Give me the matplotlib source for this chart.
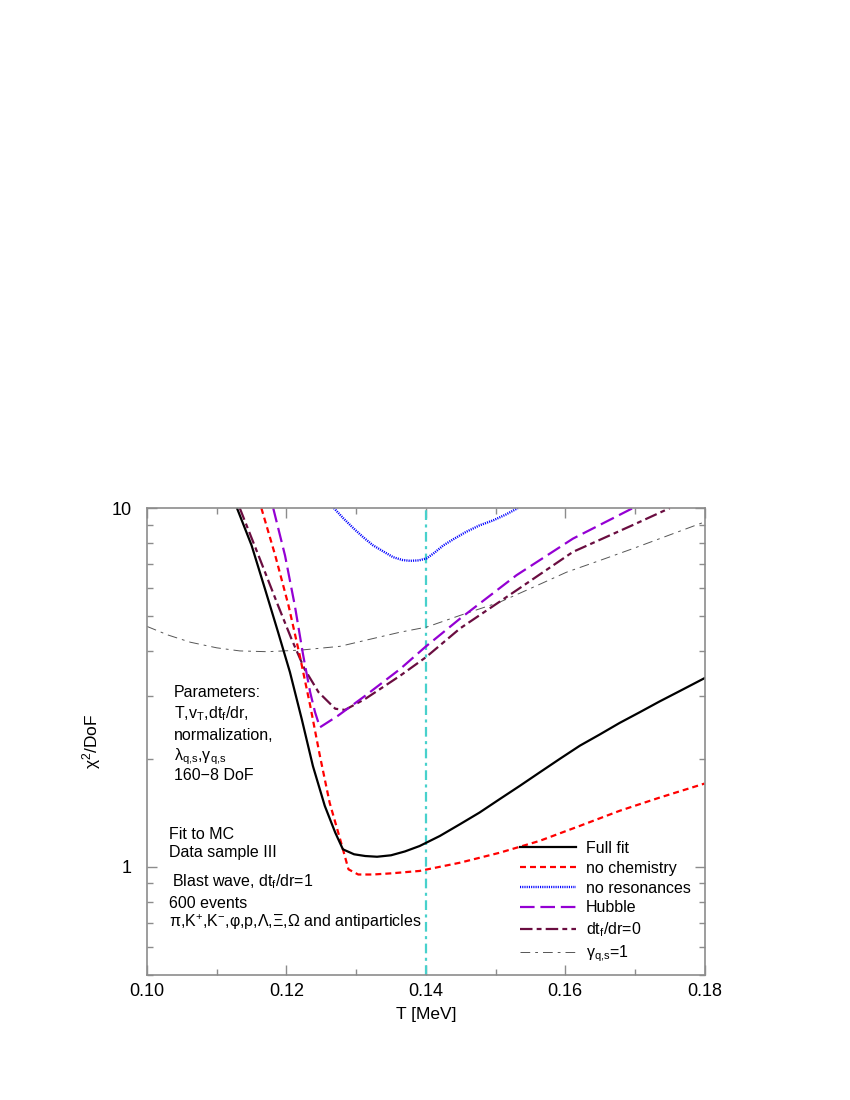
import matplotlib

matplotlib.use("Agg")
from matplotlib import pyplot as plt
from matplotlib.ticker import FixedLocator, LogLocator, NullFormatter, MultipleLocator

plt.rcParams["font.family"] = ["Liberation Sans", "DejaVu Sans"]
plt.rcParams["mathtext.fontset"] = "custom"
plt.rcParams["mathtext.rm"] = "Liberation Sans"
plt.rcParams["mathtext.it"] = "Liberation Sans:italic"
plt.rcParams["mathtext.bf"] = "Liberation Sans:bold"
plt.rcParams["lines.scale_dashes"] = False

# curves: T on the x axis, chi2/DoF on a log y axis
full_T = [0.1129, 0.1150, 0.1169, 0.1188, 0.1205, 0.1222, 0.1238, 0.1255, 0.1270,
          0.1281, 0.1297, 0.1313, 0.1330, 0.1350, 0.1370, 0.1391, 0.1420, 0.1449,
          0.1477, 0.1506, 0.1535, 0.1563, 0.1592, 0.1621, 0.1649, 0.1678, 0.1707,
          0.1735, 0.1764, 0.1800]
full_chi = [10.0, 7.87, 5.97, 4.51, 3.49, 2.58, 1.91, 1.48, 1.247,
            1.12, 1.085, 1.073, 1.068, 1.078, 1.105, 1.144, 1.22, 1.316,
            1.418, 1.546, 1.684, 1.833, 2.0, 2.178, 2.337, 2.52, 2.70,
            2.89, 3.09, 3.36]

nochem_T = [0.1164, 0.1184, 0.1203, 0.1219, 0.1234, 0.1248, 0.1262, 0.1277, 0.1289,
            0.1303, 0.1324, 0.1350, 0.1391, 0.1449, 0.1506, 0.1563, 0.1621, 0.1678,
            0.1735, 0.1800]
nochem_chi = [10.0, 7.37, 5.35, 3.89, 2.82, 2.04, 1.51, 1.195, 0.985,
              0.953, 0.953, 0.96, 0.975, 1.028, 1.096, 1.182, 1.302, 1.434,
              1.56, 1.708]

nores_T = [0.1268, 0.1282, 0.1296, 0.1310, 0.1324, 0.1340, 0.1353, 0.1366, 0.1377,
           0.1390, 0.1401, 0.1412, 0.1425, 0.1440, 0.1458, 0.1477, 0.1497, 0.1515, 0.1532]
nores_chi = [10.0, 9.35, 8.79, 8.3, 7.88, 7.55, 7.3, 7.17, 7.13,
             7.15, 7.24, 7.5, 7.87, 8.2, 8.59, 8.95, 9.25, 9.6, 10.0]

hubble_T = [0.1181, 0.1198, 0.1212, 0.1224, 0.1234, 0.1241, 0.1248, 0.1274, 0.1313,
            0.1363, 0.1399, 0.1449, 0.1530, 0.1611, 0.1697]
hubble_chi = [10.0, 7.37, 5.35, 3.89, 3.07, 2.7, 2.45, 2.64, 3.0,
              3.56, 4.1, 4.92, 6.5, 8.22, 10.0]

dtdr_T = [0.1133, 0.1160, 0.1188, 0.1207, 0.1226, 0.1246, 0.1270, 0.1284, 0.1313,
          0.1363, 0.1400, 0.1449, 0.1530, 0.1611, 0.1697, 0.1750]
dtdr_chi = [10.0, 7.37, 5.35, 4.33, 3.56, 3.07, 2.76, 2.74, 2.94,
            3.41, 3.84, 4.62, 5.9, 7.55, 8.97, 10.0]

gamma_T = [0.1000, 0.1030, 0.1062, 0.1100, 0.1133, 0.1172, 0.1220, 0.1277, 0.1313,
           0.1363, 0.1401, 0.1450, 0.1506, 0.1550, 0.1602, 0.1650, 0.1697, 0.1745,
           0.1788, 0.1800]
gamma_chi = [4.68, 4.43, 4.23, 4.08, 4.0, 3.98, 4.02, 4.12, 4.28,
             4.51, 4.66, 5.03, 5.47, 5.97, 6.63, 7.15, 7.71, 8.35,
             8.97, 9.15]

T_mark = 0.14

x_ticks = [0.10, 0.12, 0.14, 0.16, 0.18]
x_ticklabels = ["0.10", "0.12", "0.14", "0.16", "0.18"]
y_ticks = [1, 10]
y_ticklabels = ["1", "10"]

SPINE = "#8c8c8c"
SUB_QS = "$_{\\mathregular{q{,}s}}$"
SUB_F = "$_{\\mathregular{f}}$"

fig = plt.figure(figsize=(8.5, 11), dpi=100)
ax = fig.add_axes([0.173, 0.1136, 0.656, 0.4245])

ax.axvline(T_mark, color="#48d1cc", linewidth=1.6, linestyle=(0, (7, 3.2, 2.2, 3.2)))
ax.plot(gamma_T, gamma_chi, color="#555555", linewidth=0.7,
        linestyle=(0, (7, 3.6, 2, 3.6)), label="γ" + SUB_QS + "=1")
ax.plot(dtdr_T, dtdr_chi, color="#6a0d40", linewidth=1.6,
        linestyle=(0, (9, 3, 3.5, 3)), label="dt" + SUB_F + "/dr=0")
ax.plot(hubble_T, hubble_chi, color="#9400d3", linewidth=1.6,
        linestyle=(0, (10.5, 4.2)), label="Hubble")
ax.plot(nores_T, nores_chi, color="#0000ff", linewidth=1.7,
        linestyle=(0, (0.8, 0.8)), label="no resonances")
ax.plot(nochem_T, nochem_chi, color="#ff0000", linewidth=1.6,
        linestyle=(0, (4.3, 2.9)), label="no chemistry")
ax.plot(full_T, full_chi, color="black", linewidth=1.6, label="Full fit")

ax.set_xlim(0.10, 0.18)
ax.set_yscale("log")
ax.set_ylim(0.5, 10)

ax.xaxis.set_major_locator(FixedLocator(x_ticks))
ax.set_xticklabels(x_ticklabels)
ax.xaxis.set_minor_locator(MultipleLocator(0.01))
ax.yaxis.set_major_locator(FixedLocator(y_ticks))
ax.set_yticklabels(y_ticklabels)
ax.yaxis.set_minor_locator(LogLocator(base=10, subs=[2, 3, 4, 5, 6, 7, 8, 9]))
ax.yaxis.set_minor_formatter(NullFormatter())

for side in ("left", "right", "top", "bottom"):
    ax.spines[side].set_color(SPINE)
    ax.spines[side].set_linewidth(1.2)
ax.tick_params(which="both", direction="in", top=True, right=True, color=SPINE)
ax.tick_params(which="major", length=7, width=1)
ax.tick_params(which="minor", length=4, width=1)
ax.tick_params(axis="x", labelsize=13, pad=6)
ax.tick_params(axis="y", labelsize=13, pad=11)

ax.set_xlabel("T [MeV]", fontsize=12.5, labelpad=5)
ax.set_ylabel("χ$^{2}$/DoF", fontsize=12.5, labelpad=6)

TXT = 11.5
notes = [
    (0.048, 0.606, "Parameters:"),
    (0.048, 0.559, "T,v$_{\\mathregular{T}}$,dt" + SUB_F + "/dr,"),
    (0.048, 0.512, "normalization,"),
    (0.048, 0.467, "λ" + SUB_QS + ",γ" + SUB_QS),
    (0.048, 0.428, "160−8 DoF"),
    (0.039, 0.302, "Fit to MC"),
    (0.039, 0.263, "Data sample III"),
    (0.045, 0.201, "Blast wave, dt" + SUB_F + "/dr=1"),
    (0.039, 0.154, "600 events"),
    (0.039, 0.113, "π,K$^{+}$,K$^{-}$,φ,p,Λ,Ξ,Ω and antiparticles"),
]
for fx, fy, s in notes:
    ax.text(fx, fy, s, transform=ax.transAxes, fontsize=TXT, va="center", ha="left")

handles, labels = ax.get_legend_handles_labels()
ax.legend(handles[::-1], labels[::-1], loc="upper left", bbox_to_anchor=(0.668, 0.287),
          frameon=False, fontsize=TXT, handlelength=3.55, handletextpad=0.6,
          labelspacing=0.3, borderpad=0, borderaxespad=0)

fig.savefig("out.png", dpi=100)
plt.close(fig)
